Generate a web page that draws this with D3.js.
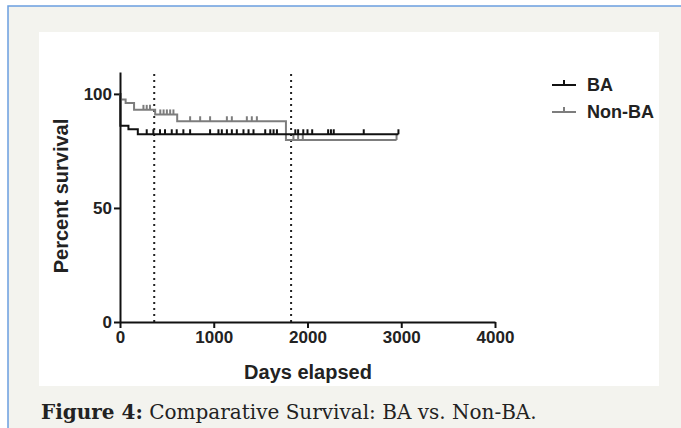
<!DOCTYPE html>
<html>
<head>
<meta charset="utf-8">
<script src="https://cdn.jsdelivr.net/npm/d3@7"></script>
<style>
  html, body { margin: 0; padding: 0; background: #fff; }
  svg { display: block; }
</style>
</head>
<body>
<div id="chart"></div>
<script>
// Kaplan-Meier step points (days, percent survival)
var baTimes = [0, 4, 90, 190, 2970];
var baSurv = [100, 86, 84.5, 82.3, 82.3];
var nonBaTimes = [0, 2, 60, 150, 375, 610, 1770, 2950];
var nonBaSurv = [100, 97.5, 96, 93, 91, 88, 79.8, 79.8];

// Censored observations (days)
var baCensor = [285, 356, 427, 480, 552, 605, 676, 748, 961, 1050, 1086, 1140, 1193, 1246, 1317, 1371, 1424,
    1549, 1603, 1638, 1674, 1870, 1900, 1955, 2000, 2050, 2220, 2250, 2280, 2600, 2970];
var nonBaCensor = [250, 285, 320, 430, 465, 500, 535, 570, 748, 855, 961, 1140, 1193, 1353, 1406, 1460,
    1850, 1900, 1950, 2950];

var markers = [365, 1825];
var xTicks = [0, 1000, 2000, 3000, 4000];
var yTicks = [0, 50, 100];
var seriesNames = ['BA', 'Non-BA'];
var seriesColors = ['#111111', '#7d7d7d'];

var W = 681, H = 428;
var svg = d3.select('#chart').append('svg').attr('width', W).attr('height', H);

// Page frame
svg.append('rect').attr('x', 8).attr('y', 6).attr('width', W).attr('height', H)
    .attr('fill', '#f3f3ee').attr('stroke', '#6b9fe0').attr('stroke-width', 1.5);
svg.append('rect').attr('x', 39).attr('y', 32).attr('width', 620).attr('height', 354).attr('fill', '#fff');

// Scales
var x = d3.scaleLinear().domain([0, 4000]).range([120, 495]);
var y = d3.scaleLinear().domain([0, 109.6]).range([322, 72]);

var font = '"Liberation Sans", Arial, sans-serif';

// Marker lines (1 year, 5 years)
svg.selectAll('.marker').data(markers).enter().append('line')
    .attr('x1', d => x(d)).attr('x2', d => x(d))
    .attr('y1', y(0)).attr('y2', y(109.6))
    .attr('stroke', '#222').attr('stroke-width', 2)
    .attr('stroke-dasharray', '2,4');

// Axes
var xAxis = svg.append('g').attr('transform', 'translate(0,' + y(0) + ')')
    .call(d3.axisBottom(x).tickValues(xTicks).tickFormat(d3.format('d'))
        .tickSize(6).tickSizeOuter(0).tickPadding(3));
var yAxis = svg.append('g').attr('transform', 'translate(' + x(0) + ',0)')
    .call(d3.axisLeft(y).tickValues(yTicks).tickSize(6).tickSizeOuter(0).tickPadding(2));
[xAxis, yAxis].forEach(function(g) {
    g.select('.domain').attr('stroke', '#111').attr('stroke-width', 2);
    g.selectAll('.tick line').attr('stroke', '#111').attr('stroke-width', 2);
    g.selectAll('.tick text').attr('fill', '#222').style('font-family', font)
        .style('font-size', '17px').style('font-weight', 'bold');
});

// Axis titles
svg.append('text').attr('x', 308).attr('y', 379).attr('text-anchor', 'middle')
    .style('font-family', font).style('font-size', '20px').style('font-weight', 'bold').attr('fill', '#222')
    .text('Days elapsed');
svg.append('text').attr('transform', 'translate(68,' + 196 + ') rotate(-90)').attr('text-anchor', 'middle')
    .style('font-family', font).style('font-size', '20px').style('font-weight', 'bold').attr('fill', '#222')
    .text('Percent survival');

// Survival curves
var line = d3.line().curve(d3.curveStepAfter)
    .x(d => x(d[0])).y(d => y(d[1]));

function stepValue(times, surv, t) {
    var v = surv[0];
    for (var i = 0; i < times.length; i++) { if (times[i] <= t) v = surv[i]; }
    return v;
}

var series = [
    {times: nonBaTimes, surv: nonBaSurv, censor: nonBaCensor, color: seriesColors[1]},
    {times: baTimes, surv: baSurv, censor: baCensor, color: seriesColors[0]}
];

series.forEach(function(s) {
    var pts = s.times.map((t, i) => [t, s.surv[i]]);
    svg.append('path').datum(pts).attr('d', line)
        .attr('fill', 'none').attr('stroke', s.color).attr('stroke-width', 2);
    svg.selectAll(null).data(s.censor).enter().append('line')
        .attr('x1', d => x(d)).attr('x2', d => x(d))
        .attr('y1', d => y(stepValue(s.times, s.surv, d)))
        .attr('y2', d => y(stepValue(s.times, s.surv, d)) - 5)
        .attr('stroke', s.color).attr('stroke-width', 2);
});

// Legend
var legend = svg.selectAll('.legend').data(seriesNames).enter().append('g')
    .attr('transform', (d, i) => 'translate(552,' + (85 + i * 27) + ')');
legend.append('line').attr('x1', 0).attr('x2', 24).attr('y1', 0).attr('y2', 0)
    .attr('stroke', (d, i) => seriesColors[i]).attr('stroke-width', 2);
legend.append('line').attr('x1', 12).attr('x2', 12).attr('y1', 0).attr('y2', -5)
    .attr('stroke', (d, i) => seriesColors[i]).attr('stroke-width', 2);
legend.append('text').attr('x', 35).attr('y', 6)
    .style('font-family', font).style('font-size', '18px').style('font-weight', 'bold').attr('fill', '#222')
    .text(d => d);

// Caption
var cap = svg.append('text').attr('x', 41).attr('y', 419)
    .style('font-family', '"DejaVu Serif", serif').style('font-size', '20px').attr('fill', '#222');
cap.append('tspan').style('font-weight', 'bold').text('Figure 4:');
cap.append('tspan').text(' Comparative Survival: BA vs. Non-BA.');
</script>
</body>
</html>
